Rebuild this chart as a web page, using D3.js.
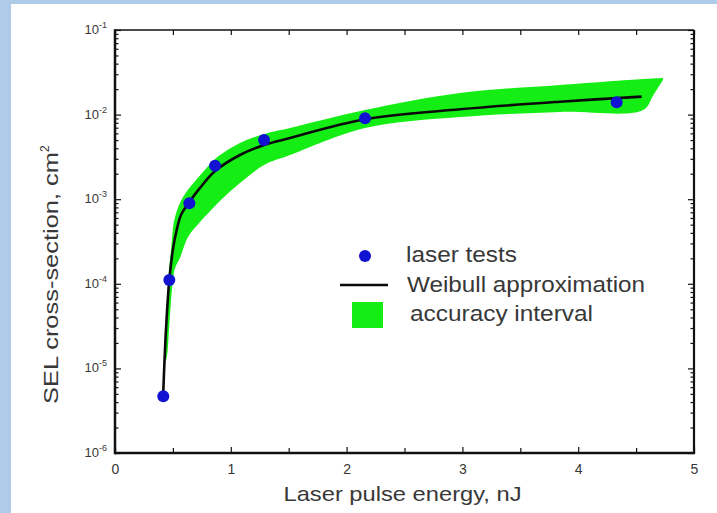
<!DOCTYPE html>
<html lang="en">
<head>
<meta charset="UTF-8">
<script src="https://cdn.jsdelivr.net/npm/d3@7"></script>
<title>SEL cross-section</title>
<style>
  body { margin: 0; background: #fff; }
  text { font-family: Arial, "Liberation Sans", sans-serif; fill: #383838; }
</style>
</head>
<body>
<div id="chart"></div>
<script>
// laser tests (energy nJ, cross-section cm2)
var testE = [0.417, 0.469, 0.642, 0.864, 1.287, 2.159, 4.332];
var testS = [4.7e-6, 1.11e-4, 8.95e-4, 2.49e-3, 5.0e-3, 9.04e-3, 1.40e-2];

// Weibull approximation
var fitE = [0.417, 0.44, 0.469, 0.504, 0.533, 0.570, 0.648, 0.734, 0.864, 1.079, 1.287, 1.511, 2.159, 2.979, 3.843, 4.548];
var fitS = [5.3e-6, 2.84e-5, 1.11e-4, 2.75e-4, 4.33e-4, 6.5e-4, 9.5e-4, 1.36e-3, 2.15e-3, 3.33e-3, 4.37e-3, 5.29e-3, 8.8e-3, 1.156e-2, 1.42e-2, 1.63e-2];

// accuracy interval (upper / lower edge)
var bandE = [0.427, 0.449, 0.466, 0.484, 0.501, 0.518, 0.561, 0.630, 0.734, 0.864, 0.933, 1.079, 1.287, 1.511, 2.159, 2.979, 3.843, 4.560, 4.650, 4.732];
var bandHi = [1.65e-5, 6.4e-5, 1.46e-4, 2.51e-4, 4.6e-4, 6.1e-4, 9.0e-4, 1.29e-3, 1.9e-3, 2.99e-3, 3.52e-3, 4.62e-3, 5.9e-3, 6.95e-3, 1.133e-2, 1.80e-2, 2.24e-2, 2.64e-2, 2.68e-2, 2.71e-2];
var bandLo = [1.10e-5, 1.40e-5, 2.84e-5, 6.4e-5, 1.11e-4, 1.54e-4, 2.02e-4, 3.57e-4, 5.37e-4, 8.3e-4, 1.03e-3, 1.55e-3, 2.54e-3, 3.33e-3, 6.95e-3, 9.37e-3, 1.074e-2, 1.133e-2, 1.71e-2, 2.56e-2];

var xTicks = [0, 1, 2, 3, 4, 5];
var yDecades = [-6, -5, -4, -3, -2, -1];
var legendLabels = ["laser tests", "Weibull approximation", "accuracy interval"];

var W = 717, H = 513;
var L = 115, R = 694, T = 30, B = 453;

var svg = d3.select("#chart").append("svg")
    .attr("width", W).attr("height", H);

// slide background strips
svg.append("rect").attr("x", 0).attr("y", 0).attr("width", W).attr("height", H).attr("fill", "#aecbe9");
svg.append("rect").attr("x", 11).attr("y", 4).attr("width", W - 11).attr("height", H - 4).attr("fill", "#fff");

var x = d3.scaleLinear().domain([0, 5]).range([L, R]);
var y = d3.scaleLog().domain([1e-6, 1e-1]).range([B, T]);

// accuracy band
var band = bandE.map((e, i) => ({e: e, hi: bandHi[i], lo: bandLo[i]}));
svg.append("path")
    .datum(band)
    .attr("fill", "#14ee14")
    .attr("d", d3.area()
        .x(d => x(d.e))
        .y0(d => y(d.lo))
        .y1(d => y(d.hi))
        .curve(d3.curveCatmullRom.alpha(0.5)));

// weibull line
svg.append("path")
    .datum(fitE.map((e, i) => [e, fitS[i]]))
    .attr("fill", "none")
    .attr("stroke", "#0a0a0a")
    .attr("stroke-width", 2.6)
    .attr("d", d3.line()
        .x(d => x(d[0]))
        .y(d => y(d[1]))
        .curve(d3.curveCatmullRom.alpha(0.5)));

// test points
svg.append("g").selectAll("circle")
    .data(testE.map((e, i) => [e, testS[i]]))
    .enter().append("circle")
    .attr("cx", d => x(d[0]))
    .attr("cy", d => y(d[1]))
    .attr("r", 6)
    .attr("fill", "#1212d2");

// ticks (pointing inward)
var xMinor = d3.range(0.5, 5, 1);
var yMajor = yDecades.map(p => Math.pow(10, p));
var yMinor = y.ticks().filter(v => yMajor.indexOf(v) < 0);

function styleAxis(g) {
    g.select(".domain").remove();
    g.selectAll("line").attr("stroke", "#111").attr("stroke-width", 1.2);
}

svg.append("g").attr("transform", `translate(0,${B})`)
    .call(d3.axisBottom(x).tickValues(xTicks).tickSizeInner(-6).tickSizeOuter(0).tickPadding(11).tickFormat(d3.format("d")))
    .call(styleAxis)
    .call(g => g.selectAll("text").attr("font-size", 14).attr("fill", "#404040"));
svg.append("g").attr("transform", `translate(0,${B})`)
    .call(d3.axisBottom(x).tickValues(xMinor).tickSizeInner(-5).tickSizeOuter(0).tickFormat(""))
    .call(styleAxis);
svg.append("g").attr("transform", `translate(0,${T})`)
    .call(d3.axisTop(x).tickValues(xTicks.concat(xMinor)).tickSizeInner(-5).tickSizeOuter(0).tickFormat(""))
    .call(styleAxis);

[[L, d3.axisLeft], [R, d3.axisRight]].forEach(a => {
    svg.append("g").attr("transform", `translate(${a[0]},0)`)
        .call(a[1](y).tickValues(yMajor).tickSizeInner(-6).tickSizeOuter(0).tickFormat(""))
        .call(styleAxis);
    svg.append("g").attr("transform", `translate(${a[0]},0)`)
        .call(a[1](y).tickValues(yMinor).tickSizeInner(-3.5).tickSizeOuter(0).tickFormat(""))
        .call(styleAxis);
});

// y tick labels 10^n
var yl = svg.append("g").selectAll("text")
    .data(yDecades)
    .enter().append("text")
    .attr("x", L - 8)
    .attr("y", d => y(Math.pow(10, d)) + 4)
    .attr("text-anchor", "end")
    .attr("font-size", 13)
    .attr("fill", "#404040");
yl.append("tspan").text("10");
yl.append("tspan").attr("dy", -6).attr("font-size", 9).text(d => "-" + Math.abs(d));

// frame
var frame = svg.append("g").attr("stroke", "#111").attr("fill", "none");
frame.append("line").attr("x1", L).attr("x2", R).attr("y1", T).attr("y2", T).attr("stroke-width", 1.6);
frame.append("line").attr("x1", R).attr("x2", R).attr("y1", T).attr("y2", B).attr("stroke-width", 2.2);
frame.append("line").attr("x1", L).attr("x2", L).attr("y1", T - 0.8).attr("y2", B + 1.2).attr("stroke-width", 2.5);
frame.append("line").attr("x1", L).attr("x2", R + 1.1).attr("y1", B).attr("y2", B).attr("stroke-width", 2.5);

// axis titles
svg.append("text")
    .attr("x", (L + R) / 2 - 2)
    .attr("y", 501)
    .attr("text-anchor", "middle")
    .attr("font-size", 21)
    .attr("textLength", 238)
    .attr("lengthAdjust", "spacingAndGlyphs")
    .text("Laser pulse energy, nJ");

var yt = svg.append("text")
    .attr("transform", "translate(58,404) rotate(-90)")
    .attr("font-size", 21);
yt.append("tspan").attr("textLength", 252).attr("lengthAdjust", "spacingAndGlyphs").text("SEL cross-section, cm");
yt.append("tspan").attr("dy", -9).attr("font-size", 12).text("2");

// legend
var lg = svg.append("g");
lg.append("circle").attr("cx", 365).attr("cy", 256).attr("r", 6).attr("fill", "#1212d2");
lg.append("line").attr("x1", 340).attr("x2", 388).attr("y1", 285).attr("y2", 285)
    .attr("stroke", "#0a0a0a").attr("stroke-width", 2.4);
lg.append("rect").attr("x", 352).attr("y", 302).attr("width", 31).attr("height", 26).attr("fill", "#14ee14");
var lgX = [406, 407, 410], lgY = [262, 292, 321], lgW = [111, 238, 183];
lg.selectAll("text").data(legendLabels).enter().append("text")
    .attr("x", (d, i) => lgX[i])
    .attr("y", (d, i) => lgY[i])
    .attr("font-size", 22)
    .attr("textLength", (d, i) => lgW[i])
    .attr("lengthAdjust", "spacingAndGlyphs")
    .text(d => d);
</script>
</body>
</html>
